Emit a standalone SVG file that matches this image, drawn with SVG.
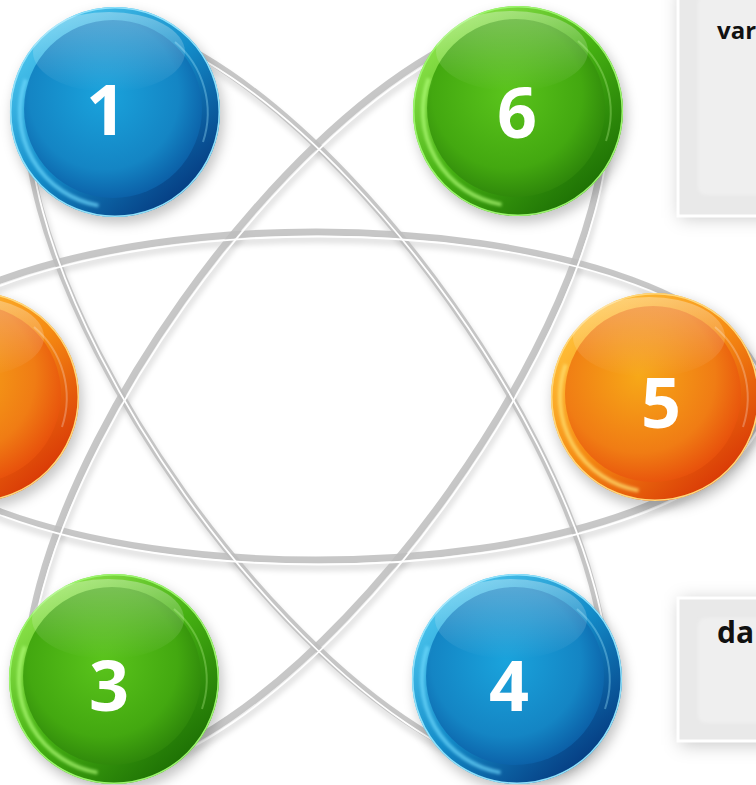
<svg xmlns="http://www.w3.org/2000/svg" width="756" height="785" viewBox="0 0 756 785">
<defs>
  <style>
    .num{font-family:"Open Sans","Noto Sans","DejaVu Sans",sans-serif;font-weight:700;font-size:70px;fill:#ffffff;text-anchor:middle}
    .lbl{font-family:"Open Sans","Noto Sans","DejaVu Sans",sans-serif;font-weight:700;fill:#111111}
    .rshadow{fill:none;stroke:#000;stroke-opacity:0.10;stroke-width:9}
    .rband{fill:none;stroke:#bdbdbd;stroke-opacity:0.85;stroke-width:7}
    .rhi{fill:none;stroke:#ffffff;stroke-width:1.8}
    .sshadow{fill:#000;fill-opacity:0.22}
    .gloss{fill:url(#gloss)}
    .boxframe{fill:#e9e9e9;stroke:#ffffff;stroke-width:3}
    .boxinner{fill:#efefef}
  </style>
  <filter id="blur3" x="-20%" y="-20%" width="140%" height="140%"><feGaussianBlur stdDeviation="2.5"/></filter>
  <filter id="blur6" x="-30%" y="-30%" width="160%" height="160%"><feGaussianBlur stdDeviation="6"/></filter>
  <filter id="blur2" x="-20%" y="-20%" width="140%" height="140%"><feGaussianBlur stdDeviation="1.5"/></filter>
  <filter id="boxsh" x="-30%" y="-30%" width="160%" height="160%"><feGaussianBlur stdDeviation="9"/></filter>

  <linearGradient id="gloss" x1="0" y1="0" x2="0" y2="1">
    <stop offset="0" stop-color="#fff" stop-opacity="0.32"/>
    <stop offset="1" stop-color="#fff" stop-opacity="0"/>
  </linearGradient>

  <linearGradient id="bO" x1="0.15" y1="0.1" x2="0.85" y2="0.9">
    <stop offset="0" stop-color="#4cc6ee"/>
    <stop offset="0.5" stop-color="#138bc8"/>
    <stop offset="1" stop-color="#053a80"/>
  </linearGradient>
  <radialGradient id="bI" cx="0.45" cy="0.42" r="0.6">
    <stop offset="0" stop-color="#1aa3dc"/>
    <stop offset="0.7" stop-color="#1485c4"/>
    <stop offset="1" stop-color="#0b5ea6"/>
  </radialGradient>

  <linearGradient id="gO" x1="0.15" y1="0.1" x2="0.85" y2="0.9">
    <stop offset="0" stop-color="#8ee44c"/>
    <stop offset="0.5" stop-color="#45b012"/>
    <stop offset="1" stop-color="#1c6e04"/>
  </linearGradient>
  <radialGradient id="gI" cx="0.45" cy="0.42" r="0.6">
    <stop offset="0" stop-color="#5ac41c"/>
    <stop offset="0.7" stop-color="#43a810"/>
    <stop offset="1" stop-color="#2d850a"/>
  </radialGradient>

  <linearGradient id="oO" x1="0.15" y1="0.1" x2="0.85" y2="0.9">
    <stop offset="0" stop-color="#ffc23a"/>
    <stop offset="0.5" stop-color="#f58a12"/>
    <stop offset="1" stop-color="#d83606"/>
  </linearGradient>
  <radialGradient id="oI" cx="0.42" cy="0.4" r="0.62">
    <stop offset="0" stop-color="#f7a818"/>
    <stop offset="0.7" stop-color="#f07c14"/>
    <stop offset="1" stop-color="#e8520c"/>
  </radialGradient>
</defs>

<rect width="756" height="785" fill="#ffffff"/>

<!-- connectors: three rings -->
<g id="connectors">
  <g transform="translate(316,396)">
    <g filter="url(#blur3)">
      <ellipse class="rshadow" rx="446" ry="164" transform="translate(3,7)"/>
      <ellipse class="rshadow" rx="443" ry="164" transform="translate(3,7) rotate(54.6)"/>
      <ellipse class="rshadow" rx="443" ry="164" transform="translate(3,7) rotate(-54.6)"/>
    </g>
    <ellipse class="rband" rx="446" ry="164"/>
    <ellipse class="rband" rx="443" ry="164" transform="rotate(54.6)"/>
    <ellipse class="rband" rx="443" ry="164" transform="rotate(-54.6)"/>
    <ellipse class="rhi" rx="446" ry="164" transform="translate(3,4.5)"/>
    <ellipse class="rhi" rx="443" ry="164" transform="translate(3,4.5) rotate(54.6)"/>
    <ellipse class="rhi" rx="443" ry="164" transform="translate(3,4.5) rotate(-54.6)"/>
  </g>
</g>

<!-- boxes -->
<g id="box-top">
  <rect x="680" y="-10" width="100" height="228" fill="#000" fill-opacity="0.22" filter="url(#boxsh)"/>
  <rect class="boxframe" x="678" y="-10" width="100" height="226"/>
  <rect class="boxinner" x="698" y="-5" width="80" height="200" rx="8" filter="url(#blur2)"/>
  <text class="lbl" x="717" y="39" font-size="24">var</text>
</g>
<g id="box-bottom">
  <rect x="680" y="600" width="100" height="145" fill="#000" fill-opacity="0.22" filter="url(#boxsh)"/>
  <rect class="boxframe" x="678" y="598" width="100" height="143"/>
  <rect class="boxinner" x="698" y="618" width="80" height="105" rx="8" filter="url(#blur2)"/>
  <text class="lbl" x="717" y="643" font-size="30">da</text>
</g>

<!-- nodes -->
<g id="node-2" transform="translate(-26,397)">
  <circle class="sshadow" r="106" transform="translate(3,6)" filter="url(#blur6)"/>
  <circle r="105" fill="url(#oO)"/>
  <circle r="104.3" fill="none" stroke="#ffd77a" stroke-width="1.6"/>
  <circle r="89" cx="-2" cy="-3" fill="url(#oI)"/>
  <path d="M -16.5 93.6 A 95 95 0 0 1 -89.3 -32.5" fill="none" stroke="#ffe070" stroke-width="4" stroke-opacity="0.7" filter="url(#blur2)"/>
  <path d="M 60 -70 A 93 93 0 0 1 88 30" fill="none" stroke="#fff" stroke-width="2" stroke-opacity="0.25"/>
  <ellipse class="gloss" cx="-6" cy="-60" rx="76" ry="40"/>
</g>

<g id="node-1" transform="translate(115,112)">
  <circle class="sshadow" r="106" transform="translate(3,6)" filter="url(#blur6)"/>
  <circle r="105" fill="url(#bO)"/>
  <circle r="104.3" fill="none" stroke="#8fe1fb" stroke-width="1.6"/>
  <circle r="89" cx="-2" cy="-3" fill="url(#bI)"/>
  <path d="M -16.5 93.6 A 95 95 0 0 1 -89.3 -32.5" fill="none" stroke="#6fdcff" stroke-width="4" stroke-opacity="0.7" filter="url(#blur2)"/>
  <path d="M 60 -70 A 93 93 0 0 1 88 30" fill="none" stroke="#9ee8ff" stroke-width="2" stroke-opacity="0.35"/>
  <ellipse class="gloss" cx="-6" cy="-60" rx="76" ry="40"/>
  <text class="num" x="-9" y="23">1</text>
</g>

<g id="node-6" transform="translate(518,111)">
  <circle class="sshadow" r="106" transform="translate(3,6)" filter="url(#blur6)"/>
  <circle r="105" fill="url(#gO)"/>
  <circle r="104.3" fill="none" stroke="#9cf56e" stroke-width="1.6"/>
  <circle r="89" cx="-2" cy="-3" fill="url(#gI)"/>
  <path d="M -16.5 93.6 A 95 95 0 0 1 -89.3 -32.5" fill="none" stroke="#b4ff7a" stroke-width="4" stroke-opacity="0.7" filter="url(#blur2)"/>
  <path d="M 60 -70 A 93 93 0 0 1 88 30" fill="none" stroke="#c8ff9a" stroke-width="2" stroke-opacity="0.3"/>
  <ellipse class="gloss" cx="-6" cy="-60" rx="76" ry="40"/>
  <text class="num" x="-1" y="27">6</text>
</g>

<g id="node-5" transform="translate(655,397)">
  <circle class="sshadow" r="106" transform="translate(3,6)" filter="url(#blur6)"/>
  <circle r="104" fill="url(#oO)"/>
  <circle r="103.3" fill="none" stroke="#ffd77a" stroke-width="1.6"/>
  <circle r="88" cx="-2" cy="-3" fill="url(#oI)"/>
  <path d="M -16.5 93.6 A 95 95 0 0 1 -89.3 -32.5" fill="none" stroke="#ffe070" stroke-width="4" stroke-opacity="0.75" filter="url(#blur2)"/>
  <path d="M 60 -70 A 93 93 0 0 1 88 30" fill="none" stroke="#fff" stroke-width="2" stroke-opacity="0.25"/>
  <ellipse class="gloss" cx="-6" cy="-60" rx="76" ry="40"/>
  <text class="num" x="6" y="31">5</text>
</g>

<g id="node-4" transform="translate(517,679)">
  <circle class="sshadow" r="106" transform="translate(3,6)" filter="url(#blur6)"/>
  <circle r="105" fill="url(#bO)"/>
  <circle r="104.3" fill="none" stroke="#8fe1fb" stroke-width="1.6"/>
  <circle r="89" cx="-2" cy="-3" fill="url(#bI)"/>
  <path d="M -16.5 93.6 A 95 95 0 0 1 -89.3 -32.5" fill="none" stroke="#6fdcff" stroke-width="4" stroke-opacity="0.7" filter="url(#blur2)"/>
  <path d="M 60 -70 A 93 93 0 0 1 88 30" fill="none" stroke="#9ee8ff" stroke-width="2" stroke-opacity="0.35"/>
  <ellipse class="gloss" cx="-6" cy="-60" rx="76" ry="40"/>
  <text class="num" x="-8" y="32">4</text>
</g>

<g id="node-3" transform="translate(114,679)">
  <circle class="sshadow" r="106" transform="translate(3,6)" filter="url(#blur6)"/>
  <circle r="105" fill="url(#gO)"/>
  <circle r="104.3" fill="none" stroke="#9cf56e" stroke-width="1.6"/>
  <circle r="89" cx="-2" cy="-3" fill="url(#gI)"/>
  <path d="M -16.5 93.6 A 95 95 0 0 1 -89.3 -32.5" fill="none" stroke="#b4ff7a" stroke-width="4" stroke-opacity="0.7" filter="url(#blur2)"/>
  <path d="M 60 -70 A 93 93 0 0 1 88 30" fill="none" stroke="#c8ff9a" stroke-width="2" stroke-opacity="0.3"/>
  <ellipse class="gloss" cx="-6" cy="-60" rx="76" ry="40"/>
  <text class="num" x="-5" y="32">3</text>
</g>
</svg>
